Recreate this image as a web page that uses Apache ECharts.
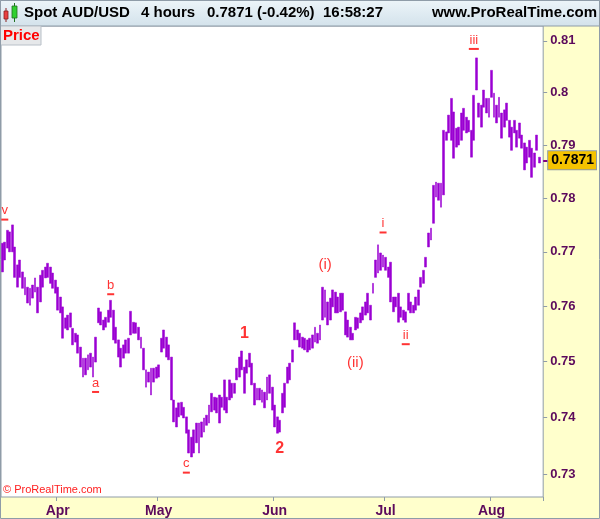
<!DOCTYPE html>
<html><head><meta charset="utf-8">
<script src="https://cdn.jsdelivr.net/npm/echarts@6/dist/echarts.min.js"></script>
<style>html,body{margin:0;padding:0;background:#fff}#c{width:600px;height:519px}</style>
</head><body><div id="c"></div>
<script>
// 12-hour bar highs / lows (Spot AUD/USD)
const highs = [
.7716,.7718,.7740,.7737,.7750,.7709,.7676,.7685,.7663,.7653,
.7635,.7633,.7639,.7652,.7635,.7657,.7666,.7672,.7679,.7672,
.7661,.7648,.7635,.7617,.7599,.7579,.7584,.7588,.7560,.7551,
.7548,.7526,.7506,.7506,.7512,.7515,.7508,.7544,.7597,.7590,
.7575,.7580,.7593,.7611,.7593,.7562,.7539,.7524,.7530,.7539,
.7542,.7591,.7571,.7570,.7562,.7544,.7524,.7485,.7481,.7488,
.7488,.7490,.7494,.7542,.7557,.7544,.7530,.7508,.7431,.7417,
.7426,.7427,.7418,.7401,.7378,.7365,.7378,.7390,.7390,.7392,
.7399,.7404,.7422,.7443,.7436,.7435,.7440,.7436,.7467,.7436,
.7467,.7461,.7461,.7488,.7508,.7519,.7490,.7503,.7515,.7497,
.7461,.7452,.7452,.7449,.7445,.7472,.7476,.7454,.7422,.7401,
.7395,.7443,.7461,.7490,.7497,.7521,.7570,.7557,.7551,.7544,
.7542,.7539,.7542,.7548,.7562,.7551,.7566,.7635,.7630,.7608,
.7615,.7630,.7626,.7617,.7624,.7624,.7590,.7575,.7562,.7551,
.7580,.7579,.7588,.7599,.7608,.7624,.7602,.7642,.7685,.7713,
.7698,.7694,.7690,.7672,.7681,.7617,.7617,.7624,.7599,.7593,
.7590,.7624,.7608,.7602,.7617,.7630,.7653,.7666,.7690,.7735,
.7744,.7824,.7830,.7828,.7828,.7928,.7925,.7957,.7989,.7963,
.7932,.7934,.7961,.7970,.7953,.7947,.7928,.7995,.8067,.7980,
.7976,.8005,.7989,.7989,.8043,.7999,.7976,.7991,.7961,.7967,
.7980,.7947,.7934,.7947,.7928,.7942,.7919,.7904,.7896,.7909,
.7894,.7885,.7919,.7877];
const lows = [
.7663,.7685,.7707,.7700,.7700,.7653,.7635,.7653,.7633,.7621,
.7606,.7602,.7615,.7626,.7588,.7608,.7635,.7652,.7653,.7642,
.7633,.7624,.7593,.7588,.7542,.7560,.7557,.7562,.7530,.7535,
.7515,.7490,.7472,.7476,.7485,.7490,.7472,.7499,.7570,.7566,
.7557,.7562,.7571,.7580,.7539,.7533,.7508,.7490,.7506,.7515,
.7515,.7548,.7551,.7551,.7539,.7524,.7485,.7454,.7463,.7440,
.7463,.7470,.7472,.7517,.7524,.7508,.7503,.7431,.7392,.7383,
.7401,.7404,.7399,.7372,.7337,.7330,.7337,.7355,.7337,.7365,
.7374,.7386,.7390,.7410,.7413,.7408,.7390,.7418,.7413,.7408,
.7431,.7435,.7443,.7467,.7472,.7485,.7443,.7479,.7490,.7458,
.7422,.7431,.7431,.7427,.7417,.7431,.7443,.7413,.7383,.7372,
.7374,.7408,.7418,.7461,.7467,.7499,.7539,.7539,.7526,.7524,
.7521,.7517,.7521,.7524,.7535,.7533,.7539,.7575,.7580,.7566,
.7575,.7599,.7588,.7588,.7590,.7593,.7548,.7544,.7539,.7539,
.7557,.7560,.7570,.7575,.7584,.7588,.7575,.7624,.7653,.7661,
.7666,.7672,.7666,.7653,.7608,.7590,.7599,.7571,.7580,.7575,
.7571,.7593,.7588,.7588,.7593,.7602,.7635,.7642,.7672,.7709,
.7722,.7753,.7802,.7796,.7783,.7806,.7909,.7923,.7909,.7875,
.7896,.7900,.7909,.7928,.7923,.7925,.7877,.7909,.8005,.7953,
.7934,.7972,.7961,.7953,.7991,.7953,.7942,.7953,.7913,.7934,
.7947,.7915,.7890,.7923,.7896,.7913,.7894,.7853,.7866,.7877,
.7839,.7858,.7890,.7866];
const yTicks = [0.73,0.74,0.75,0.76,0.77,0.78,0.79,0.80,0.81];
const lastPrice = 0.7871;
const monthNames = ['Jan','Feb','Mar','Apr','May','Jun','Jul','Aug','Sep','Oct','Nov','Dec'];
const waveText  = ['v','a','b','c','1','2','(i)','(ii)','i','ii','iii'];
const waveIdx   = [1,37,43,73,96,110,128,140,151,160,187];
const wavePrice = [0.7772,0.7457,0.7634,0.7314,0.7550,0.7344,0.7676,0.7497,0.7748,0.7543,0.8097];
const headerTitle = 'Spot AUD/USD';
const headerPeriod = '4 hours';
const headerQuote = '0.7871 (-0.42%)';
const headerTime = '16:58:27';
const headerSite = 'www.ProRealTime.com';

// categories: two 12h slots per weekday, 2017-03-17 .. 2017-08-14
const cats = []; const monthStarts = new Set();
{
  let t = Date.UTC(2017,2,17); const end = Date.UTC(2017,7,14); let lastM = 2;
  while (t <= end) {
    const d = new Date(t); const wd = d.getUTCDay();
    if (wd !== 0 && wd !== 6) {
      const s = d.toISOString().slice(0,10);
      if (d.getUTCMonth() !== lastM) { monthStarts.add(cats.length); lastM = d.getUTCMonth(); }
      cats.push(s + ' 00', s + ' 12');
    }
    t += 86400000;
  }
  cats.push('');
}

const F = '"Liberation Sans", Arial, Helvetica, sans-serif';
const PURPLE = '#9a00d2';
const AXC = '#5c0a5c';
const GRAY = '#8f9ca8';
const RED = '#ff0000';

const candle = highs.map((h,i)=>[lows[i], h, lows[i], h]);

const waveData = waveText.map((t,i)=>({name:t, value:[waveIdx[i], wavePrice[i]]}));

const chart = echarts.init(document.getElementById('c'), null, {renderer:'canvas'});
chart.setOption({
  animation:false,
  backgroundColor:'#ffffcc',
  grid:{left:1, right:55, top:26, bottom:22, show:true, backgroundColor:'#ffffff', borderColor:GRAY, borderWidth:1},
  xAxis:{
    type:'category', data:cats, boundaryGap:true,
    axisLine:{show:false}, splitLine:{show:false},
    axisTick:{show:true, interval:(i)=>monthStarts.has(i), length:4, lineStyle:{color:GRAY}},
    axisLabel:{interval:(i)=>monthStarts.has(i), formatter:(v)=>monthNames[+v.slice(5,7)-1],
      color:AXC, fontWeight:'bold', fontSize:14, fontFamily:F, margin:7}
  },
  yAxis:[{
    type:'log', position:'right', min:0.7260, max:0.8129, logBase:10,
    axisLine:{show:false}, splitLine:{show:false},
    axisTick:{show:true, customValues:yTicks, length:4, lineStyle:{color:GRAY}},
    axisLabel:{customValues:yTicks, formatter:(v)=>String(+(+v).toFixed(2)),
      color:AXC, fontWeight:'bold', fontSize:13, fontFamily:F, margin:7}
  },{
    type:'log', position:'right', min:0.7260, max:0.8129, logBase:10,
    axisLine:{show:false}, splitLine:{show:false}, z:5,
    axisTick:{show:true, customValues:[lastPrice], length:5, lineStyle:{color:'#800080', width:2}},
    axisLabel:{customValues:[lastPrice], formatter:(v)=>(+v).toFixed(4),
      color:'#000', fontWeight:'bold', fontSize:14, fontFamily:F, margin:5,
      backgroundColor:'#f5c300', borderColor:'#8f9ca8', borderWidth:1, padding:[2,2,2,3]}
  }],
  series:[{
    type:'candlestick', data:candle, barWidth:2.4,
    itemStyle:{color:PURPLE, color0:PURPLE, borderColor:PURPLE, borderColor0:PURPLE, borderWidth:0.5}
  },{
    type:'scatter', data:waveData, symbolSize:1, itemStyle:{color:'rgba(0,0,0,0)'}, z:5,
    label:{show:true, position:'inside', color:RED, fontFamily:F,
      formatter:(p)=>{
        const t=p.name;
        if (/^\d$/.test(t)) return '{d|'+t+'}';
        if (t[0]==='(') return '{p|'+t+'}';
        return '{t|'+t+'}\n{u'+Math.min(t.length,3)+'| }';
      },
      rich:{
        d:{fontSize:16, fontWeight:'bold', color:RED, fontFamily:F},
        p:{fontSize:15, color:RED, fontFamily:F},
        t:{fontSize:13, lineHeight:13, color:RED, fontFamily:F, align:'center'},
        u1:{width:7, height:2, lineHeight:5, backgroundColor:RED, align:'center'},
        u2:{width:8, height:2, lineHeight:5, backgroundColor:RED, align:'center'},
        u3:{width:10, height:2, lineHeight:5, backgroundColor:RED, align:'center'}
      }
    }
  }],
  graphic:[
    {type:'rect', shape:{x:0,y:0,width:600,height:26}, z:1,
      style:{fill:new echarts.graphic.LinearGradient(0,0,0,1,[{offset:0,color:'#edf5f9'},{offset:1,color:'#d3e2eb'}]), stroke:GRAY, lineWidth:1}},
    {type:'rect', shape:{x:4,y:11,width:4,height:8}, z:2, style:{fill:'#e84040', stroke:'#8a2020', lineWidth:0.8}},
    {type:'rect', shape:{x:12,y:6,width:5,height:12}, z:2, style:{fill:'#30d030', stroke:'#207020', lineWidth:0.8}},
    {type:'line', shape:{x1:14.5,y1:3,x2:14.5,y2:22}, z:1, style:{stroke:'#207020', lineWidth:1}},
    {type:'line', shape:{x1:6,y1:8,x2:6,y2:22}, z:1, style:{stroke:'#8a2020', lineWidth:1}},
    {type:'text', x:24, y:13, z:3, style:{text:headerTitle, fill:'#000', font:'bold 15px '+F, textVerticalAlign:'middle'}},
    {type:'text', x:141, y:13, z:3, style:{text:headerPeriod, fill:'#000', font:'bold 15px '+F, textVerticalAlign:'middle'}},
    {type:'text', x:207, y:13, z:3, style:{text:headerQuote, fill:'#000', font:'bold 15px '+F, textVerticalAlign:'middle'}},
    {type:'text', x:323, y:13, z:3, style:{text:headerTime, fill:'#000', font:'bold 15px '+F, textVerticalAlign:'middle'}},
    {type:'text', x:597, y:13, z:3, style:{text:headerSite, fill:'#000', font:'bold 15px '+F, textVerticalAlign:'middle', textAlign:'right'}},
    {type:'rect', shape:{x:0.5,y:26,width:40.5,height:19}, z:10, style:{fill:'#e6e8ea', stroke:'#b8c0c8', lineWidth:1}},
    {type:'text', x:3, y:36, z:11, style:{text:'Price', fill:'#ff0000', font:'bold 15px '+F, textVerticalAlign:'middle'}},
    {type:'text', x:3, y:490, z:11, style:{text:'© ProRealTime.com', fill:'#ff2020', font:'11px '+F, textVerticalAlign:'middle'}},
    {type:'rect', shape:{x:0.5,y:0.5,width:599,height:518}, z:20, style:{fill:null, stroke:GRAY, lineWidth:1}}
  ]
});
</script></body></html>
